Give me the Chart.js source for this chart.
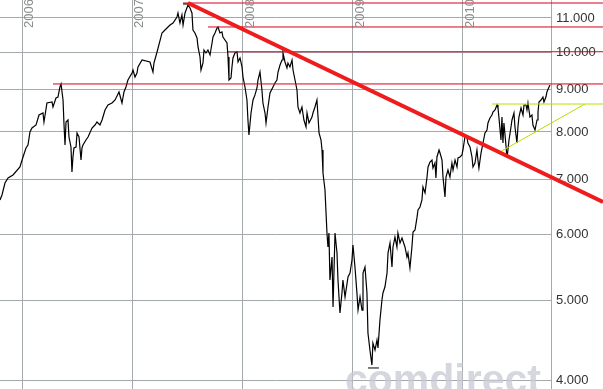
<!DOCTYPE html>
<html>
<head>
<meta charset="utf-8">
<script src="https://cdn.jsdelivr.net/npm/chart.js@4/dist/chart.umd.min.js"></script>
<style>
  html, body { margin: 0; padding: 0; background: #fff; }
  canvas { display: block; }
</style>
</head>
<body>
<canvas id="chart" width="603" height="389"></canvas>
<script>
// Index closes (decimal year / points)
const dates = [
  2005.800, 2005.818, 2005.845, 2005.873, 2005.918, 2005.981, 2006.009, 2006.036, 2006.054, 2006.072,
  2006.090, 2006.127, 2006.154, 2006.190, 2006.199, 2006.226, 2006.272, 2006.281, 2006.308, 2006.326,
  2006.344, 2006.354, 2006.372, 2006.381, 2006.390, 2006.399, 2006.417, 2006.426, 2006.444, 2006.453,
  2006.462, 2006.471, 2006.490, 2006.499, 2006.517, 2006.535, 2006.544, 2006.553, 2006.580, 2006.599,
  2006.635, 2006.662, 2006.680, 2006.707, 2006.726, 2006.753, 2006.780, 2006.816, 2006.844, 2006.880,
  2006.907, 2006.925, 2006.943, 2006.961, 2006.998, 2007.007, 2007.025, 2007.043, 2007.052, 2007.089,
  2007.161, 2007.188, 2007.197, 2007.225, 2007.270, 2007.297, 2007.343, 2007.370, 2007.406, 2007.415,
  2007.433, 2007.451, 2007.461, 2007.479, 2007.506, 2007.524, 2007.542, 2007.551, 2007.569, 2007.588,
  2007.597, 2007.615, 2007.624, 2007.642, 2007.651, 2007.669, 2007.687, 2007.706, 2007.724, 2007.733,
  2007.751, 2007.769, 2007.778, 2007.796, 2007.814, 2007.823, 2007.860, 2007.869, 2007.878, 2007.896,
  2007.905, 2007.914, 2007.932, 2007.951, 2007.960, 2007.978, 2007.996, 2008.005, 2008.023, 2008.041,
  2008.050, 2008.059, 2008.078, 2008.096, 2008.114, 2008.132, 2008.141, 2008.159, 2008.177, 2008.186,
  2008.205, 2008.214, 2008.232, 2008.250, 2008.277, 2008.295, 2008.313, 2008.323, 2008.341, 2008.359,
  2008.368, 2008.386, 2008.404, 2008.413, 2008.431, 2008.450, 2008.459, 2008.477, 2008.495, 2008.504,
  2008.522, 2008.540, 2008.558, 2008.577, 2008.586, 2008.604, 2008.631, 2008.640, 2008.658, 2008.676,
  2008.686, 2008.695, 2008.713, 2008.722, 2008.731, 2008.749, 2008.767, 2008.776, 2008.785, 2008.794,
  2008.813, 2008.822, 2008.840, 2008.858, 2008.867, 2008.885, 2008.903, 2008.912, 2008.931, 2008.958,
  2008.976, 2008.994, 2009.003, 2009.021, 2009.039, 2009.049, 2009.067, 2009.085, 2009.094, 2009.112,
  2009.130, 2009.139, 2009.157, 2009.175, 2009.184, 2009.203, 2009.221, 2009.230, 2009.248, 2009.266,
  2009.275, 2009.293, 2009.312, 2009.321, 2009.339, 2009.357, 2009.366, 2009.384, 2009.402, 2009.411,
  2009.430, 2009.448, 2009.475, 2009.493, 2009.502, 2009.520, 2009.538, 2009.548, 2009.566, 2009.584,
  2009.593, 2009.611, 2009.629, 2009.638, 2009.657, 2009.675, 2009.684, 2009.702, 2009.720, 2009.729,
  2009.747, 2009.756, 2009.765, 2009.784, 2009.793, 2009.811, 2009.820, 2009.838, 2009.847, 2009.865,
  2009.883, 2009.901, 2009.911, 2009.929, 2009.947, 2009.956, 2009.974, 2009.992, 2010.001, 2010.019,
  2010.037, 2010.046, 2010.065, 2010.083, 2010.092, 2010.110, 2010.128, 2010.137, 2010.146, 2010.165,
  2010.183, 2010.201, 2010.219, 2010.228, 2010.246, 2010.264, 2010.273, 2010.292, 2010.310, 2010.319,
  2010.328, 2010.346, 2010.355, 2010.364, 2010.373, 2010.391, 2010.401, 2010.419, 2010.437, 2010.446,
  2010.464, 2010.473, 2010.491, 2010.500, 2010.509, 2010.528, 2010.546, 2010.555, 2010.573, 2010.582,
  2010.591, 2010.609, 2010.627, 2010.636, 2010.655, 2010.673, 2010.682, 2010.691, 2010.709, 2010.727,
  2010.736, 2010.754, 2010.763, 2010.782, 2010.791
];
const closes = [
  6615, 6708, 6937, 7035, 7094, 7254, 7460, 7650, 7714, 7999,
  8089, 8157, 8388, 8435, 8226, 8674, 8698, 8578, 8796, 8821,
  9071, 9148, 8747, 8157, 7714, 8226, 8272, 7888, 7671, 7153,
  7460, 7650, 7671, 7977, 7888, 7397, 7650, 7714, 7822, 7888,
  8089, 8157, 8226, 8157, 8272, 8506, 8626, 8674, 8747, 8945,
  8674, 8945, 9071, 9250, 9433, 9512, 9328, 9433, 9593, 9782,
  9728, 9459, 9700, 10003, 10549, 10637, 10787, 10847, 11031, 11155,
  10847, 11093, 10787, 11155, 11407, 11312, 11155, 10637, 10549, 10402,
  10144, 9864, 9512, 9700, 10059, 9975, 10059, 9920, 10258, 10431,
  10549, 10697, 10727, 10549, 10578, 10431, 10258, 9864, 9250, 9302,
  9593, 9837, 9975, 10003, 9728, 9837, 9593, 9328, 9071, 8747,
  8272, 7932, 8435, 8747, 8872, 9046, 9250, 9459, 8995, 8674,
  8435, 8203, 8578, 8920, 9071, 9173, 9250, 9459, 9646, 9782,
  9975, 9728, 9566, 9700, 9593, 9782, 9512, 9250, 8995, 8578,
  8435, 8578, 8272, 8112, 8435, 8203, 8341, 8435, 8578, 8747,
  8341, 7977, 7822, 7607, 7133, 6802, 6032, 5801, 6032, 5290,
  5641, 4905, 6032, 5704, 5290, 4824, 5101, 5290, 5044, 5334,
  5394, 5594, 5833, 5486, 5101, 4864, 5044, 4864, 5394, 5486,
  5101, 4561, 4350, 4171, 4436, 4350, 4473, 4375, 4730, 5002,
  5101, 5187, 5394, 5704, 5866, 5486, 5801, 5965, 5801, 6032,
  5866, 5948, 5801, 5641, 5704, 5471, 5801, 6049, 6083, 6301,
  6432, 6487, 6615, 6860, 6746, 7054, 7254, 7356, 7397, 7233,
  7335, 7035, 7460, 7607, 7543, 7397, 7054, 6671, 7054, 7193,
  7054, 7335, 7193, 7397, 7254, 7439, 7460, 7501, 7607, 7888,
  7888, 7757, 7671, 7460, 7254, 7335, 7607, 7397, 7233, 7543,
  7757, 7977, 8044, 8203, 8318, 8388, 8459, 8506, 8626, 8554,
  8318, 7822, 8341, 7757, 8203, 7714, 7439, 7822, 8112, 8272,
  8435, 8112, 7757, 8112, 8341, 8554, 8388, 8626, 8626, 8506,
  8674, 8341, 8388, 8157, 8044, 8272, 8459, 8698, 8747, 8821,
  8698, 8821, 8945, 9071, 9122
];

// drawn-in analysis lines (start/end dates and levels)
const trendDates = [2007.506, 2011.272];
const trendLevels = [11470, 6578];
const resistLevels = [11470, 10727, 10010, 9148];
const resistStarts = [2007.461, 2007.687, 2007.869, 2006.281];
const resistEnd = 2011.272;
const triTopDates = [2010.264, 2011.272];
const triTopLevels = [8650, 8650];
const triLowDates = [2010.337, 2011.108];
const triLowLevels = [7565, 8650];
const highMarkDates = [2007.461, 2007.524];
const highMarkLevels = [11438, 11438];
const lowMarkDates = [2009.139, 2009.239];
const lowMarkLevels = [4137, 4137];

const yearTicks = [2006, 2007, 2008, 2009, 2010];
const valueTicks = [4000, 5000, 6000, 7000, 8000, 9000, 10000, 11000];
const xMin = 2005.8, xMax = 2010.8;
const yMin = 3901, yMax = 11567;

const gridColor = "#a4a9ac";

function pts(xs, ys) {
  return xs.map((x, i) => ({ x: x, y: ys[i] }));
}

function segment(xs, ys, color, width) {
  return {
    data: pts(xs, ys),
    borderColor: color,
    borderWidth: width,
    pointRadius: 0,
    tension: 0,
    clip: false
  };
}

const datasets = [
  segment(trendDates, trendLevels, "#ee1c1c", 4),
  segment(highMarkDates, highMarkLevels, "#000", 1),
  segment(lowMarkDates, lowMarkLevels, "#000", 1),
  segment(triTopDates, triTopLevels, "#b4e000", 1),
  segment(triLowDates, triLowLevels, "#b4e000", 1)
];
resistLevels.forEach((lvl, i) => {
  datasets.push(segment([resistStarts[i], resistEnd], [lvl, lvl], "#d8001c", 1));
});
datasets.push({
  data: pts(dates, closes),
  borderColor: "#000",
  borderWidth: 1.2,
  pointRadius: 0,
  tension: 0
});

// year labels at the top and the watermark
const overlay = {
  id: "overlay",
  beforeDatasetsDraw(chart) {
    const ctx = chart.ctx;
    ctx.save();
    ctx.font = 'bold 41px "Liberation Sans", Arial, sans-serif';
    ctx.fillStyle = "rgba(200,200,212,0.75)";
    ctx.textBaseline = "alphabetic";
    ctx.fillText("comdirect", 345, 393);
    ctx.restore();
  },
  afterDatasetsDraw(chart) {
    const ctx = chart.ctx;
    const xs = chart.scales.x;
    ctx.save();
    ctx.font = '13px "Liberation Sans", Arial, sans-serif';
    ctx.fillStyle = "#8c8c8c";
    yearTicks.forEach(yr => {
      const px = xs.getPixelForValue(yr);
      ctx.save();
      ctx.translate(px + 1, 28);
      ctx.rotate(-Math.PI / 2);
      ctx.textAlign = "left";
      ctx.textBaseline = "top";
      ctx.fillText(String(yr), 0, 0);
      ctx.restore();
    });
    ctx.restore();
  }
};

new Chart(document.getElementById("chart"), {
  type: "line",
  data: { datasets },
  options: {
    responsive: false,
    animation: false,
    layout: { padding: 0 },
    plugins: { legend: { display: false }, tooltip: { enabled: false } },
    scales: {
      x: {
        type: "linear",
        bounds: "data",
        min: xMin,
        max: xMax,
        afterBuildTicks: s => { s.ticks = yearTicks.map(v => ({ value: v })); },
        afterFit: s => {
          s.height = 0;
          s.paddingLeft = 0;
          s.paddingRight = 0;
        },
        ticks: { display: false },
        grid: { color: gridColor, drawTicks: false },
        border: { display: false }
      },
      y: {
        type: "logarithmic",
        bounds: "data",
        position: "right",
        min: yMin,
        max: yMax,
        afterBuildTicks: s => { s.ticks = valueTicks.map(v => ({ value: v })); },
        afterFit: s => {
          s.width = 52;
          s.paddingTop = 0;
          s.paddingBottom = 0;
        },
        ticks: {
          autoSkip: false,
          padding: 5,
          color: "#333",
          font: { family: '"Liberation Sans", Arial, sans-serif', size: 13 },
          callback: v => Math.round(v / 1000) + ".000"
        },
        grid: { color: gridColor, drawTicks: false },
        border: { color: gridColor }
      }
    }
  },
  plugins: [overlay]
});
</script>
</body>
</html>
